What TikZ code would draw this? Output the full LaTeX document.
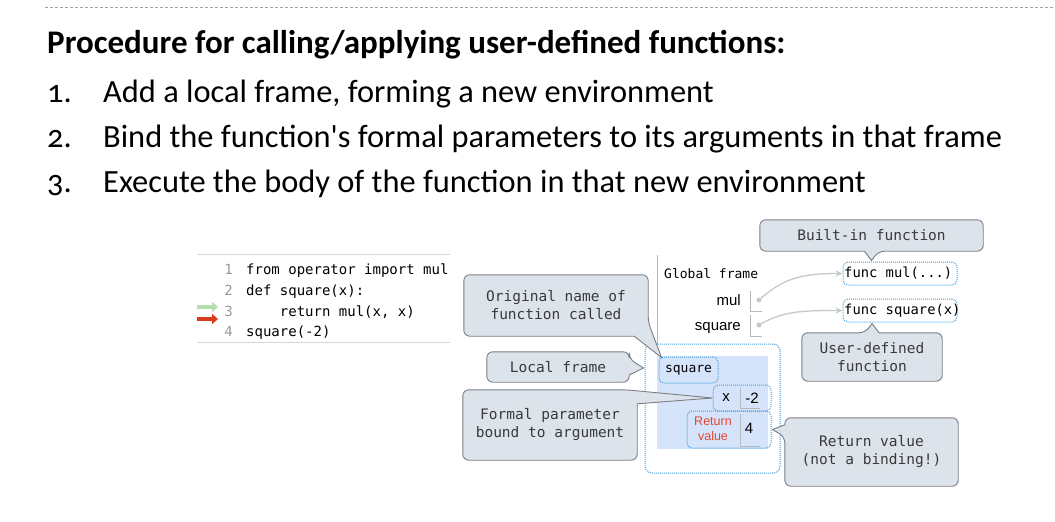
\documentclass[tikz,border=0pt]{standalone}
\usepackage{fontspec}
\setmainfont{Carlito}
\newfontfamily\listnum[Numbers=OldStyle]{Carlito}
\newfontfamily\codefont{DejaVu Sans Mono}
\newfontfamily\labelfont{Liberation Sans}
\usetikzlibrary{calc,arrows.meta}

\definecolor{callfill}{HTML}{DDE3EA}
\definecolor{callline}{HTML}{7B7F84}
\definecolor{calltext}{HTML}{3A3A3A}
\definecolor{frameblue}{HTML}{4A9FD8}
\definecolor{framefill}{HTML}{D6E4FB}
\definecolor{ptrgray}{HTML}{C8C8C8}
\definecolor{rulegray}{HTML}{D8D8D8}
\definecolor{cellgray}{HTML}{B8B8B8}
\definecolor{retred}{HTML}{E5452F}
\definecolor{arrowred}{HTML}{D93A22}
\definecolor{arrowgreen}{HTML}{B6DDB0}
\definecolor{numgray}{HTML}{9A9A9A}
\definecolor{dashgray}{HTML}{A0A0A0}

\begin{document}
\begin{tikzpicture}[x=1pt,y=-1pt,
  heading/.style={anchor=base west,inner sep=0pt,font=\bfseries\fontsize{33}{38}\selectfont},
  itemnum/.style={anchor=base west,inner sep=0pt,font=\listnum\fontsize{32.4}{38}\selectfont},
  itemtext/.style={anchor=base west,inner sep=0pt,font=\fontsize{32.4}{38}\selectfont},
  codeline/.style={anchor=base west,inner sep=0pt,font=\codefont\fontsize{14}{17}\selectfont},
  lineno/.style={anchor=base east,inner sep=0pt,text=numgray,font=\codefont\fontsize{14}{17}\selectfont},
  calloutbox/.style={inner sep=0pt},
  callpath/.style={draw=callline,fill=callfill,line width=0.9pt,rounded corners=6pt,line join=round},
  calllabel/.style={text=calltext,align=center,inner sep=0pt,font=\codefont\fontsize{14.5}{18}\selectfont},
  dotbox/.style={draw=frameblue,densely dotted,line width=1pt,rounded corners=5pt,inner sep=0pt},
  framelabel/.style={inner sep=0pt,font=\codefont\fontsize{13}{15}\selectfont},
  funclabel/.style={inner sep=0pt,font=\codefont\fontsize{13.8}{16}\selectfont},
  varname/.style={inner sep=0pt,font=\labelfont\fontsize{15}{18}\selectfont},
  cellline/.style={draw=cellgray,line width=0.8pt},
  ptr/.style={draw=ptrgray,line width=1.3pt,-{Stealth[length=7pt,width=6pt]}},
  ptrdot/.style={circle,fill=ptrgray,inner sep=0pt,minimum size=5pt},
  marker/.style={line width=3.5pt,-{Triangle[length=6pt,width=10pt]}}]

\useasboundingbox (0,0) rectangle (1055,522);

% rule at the top of the slide
\draw[dashgray,line width=1pt,dash pattern=on 3pt off 2pt] (45,7) -- (1055,7);

% heading and numbered steps
\node[heading] (head) at (47,53) {Procedure for calling/applying user-defined functions:};
\node[itemnum] (n1) at (47,102) {1.};
\node[itemtext] (t1) at (103,102) {Add a local frame, forming a new environment};
\node[itemnum] (n2) at (47,147) {2.};
\node[itemtext] (t2) at (103,147) {Bind the function\textquotesingle s formal parameters to its arguments in that frame};
\node[itemnum] (n3) at (47,192) {3.};
\node[itemtext] (t3) at (103,192) {Execute the body of the function in that new environment};

% code listing
\draw[rulegray,line width=1pt] (197,254) -- (450,254);
\draw[rulegray,line width=1pt] (197,342) -- (450,342);
\node[lineno] (l1) at (233,274) {1};
\node[codeline] (c1) at (246,274) {from operator import mul};
\node[lineno] (l2) at (233,295) {2};
\node[codeline] (c2) at (246,295) {def square(x):};
\node[lineno] (l3) at (233,316) {3};
\node[codeline] (c3) at (279.7,316) {return mul(x, x)};
\node[lineno] (l4) at (233,336) {4};
\node[codeline] (c4) at (246,336) {square(-2)};
\draw[marker,arrowgreen] (197,307) -- (218,307);
\draw[marker,arrowred] (197,319) -- (218,319);

% global frame
\draw[cellgray,line width=0.8pt] (657,255) -- (657,345);
\node[framelabel,anchor=base west] (gtitle) at (664,278) {Global frame};
\node[varname,anchor=base east] (mulname) at (741,305) {mul};
\node[varname,anchor=base east] (sqname) at (741,330) {square};
\draw[cellline] (750,291) -- (750,311) -- (762,311);
\draw[cellline] (750,315) -- (750,336) -- (762,336);
\node[ptrdot] (muldot) at (759,300) {};
\node[ptrdot] (sqdot) at (759,325) {};

% function objects
\node[dotbox,minimum width=114pt,minimum height=23pt] (fmul) at (900,273.5) {};
\node[funclabel,anchor=west] (fmultxt) at ($(fmul.west)+(1.5,0)$) {func mul(...)};
\node[dotbox,minimum width=114pt,minimum height=23pt] (fsq) at (900,310.5) {};
\node[funclabel,anchor=west] (fsqtxt) at ($(fsq.west)+(1.5,0)$) {func square(x)};
\draw[ptr] (muldot) .. controls ($(muldot)+(25,-22)$) and ($(fmul.west)+(-40,0)$) .. (fmul.west);
\draw[ptr] (sqdot) .. controls ($(sqdot)+(25,-14)$) and ($(fsq.west)+(-40,0)$) .. (fsq.west);

% local frame for square
\node[dotbox,rounded corners=7pt,minimum width=135pt,minimum height=129pt] (lframe) at (712.5,408.5) {};
\node[fill=framefill,inner sep=0pt,minimum width=111pt,minimum height=93pt] (lfill) at (712.5,402.5) {};
\node[dotbox,framelabel,minimum width=59pt,minimum height=26pt] (sqlabel) at (688.5,370) {square};
\node[dotbox,minimum width=58pt,minimum height=26pt] (xcell) at (742,398) {};
\node[varname] (xname) at (726,398) {x};
\node[varname] (xval) at (752,398) {-2};
\draw[cellline] (740,388) -- (740,408) -- (760,408);
\node[dotbox,minimum width=84pt,minimum height=37pt] (retcell) at (729,429.5) {};
\node[inner sep=0pt,align=center,text=retred,font=\labelfont\fontsize{12.5}{15}\selectfont] (retname) at (713,429) {Return\\value};
\node[varname] (retval) at (749,428) {4};
\draw[cellline] (740,414) -- (740,446) -- (760,446);

% callout: original name
\node[calloutbox,minimum width=184pt,minimum height=61pt] (origcall) at (556,305.5) {};
\path[callpath] (origcall.north) -- (origcall.north east) -- ($(origcall.south east)+(0,-14)$)
  [sharp corners] -- ($(sqlabel.north west)+(3,1)$) -- ($(origcall.south east)+(-14,0)$)
  [rounded corners=6pt] -- (origcall.south west) -- (origcall.north west) -- cycle;
\node[calllabel] (origtxt) at (origcall) {Original name of\\function called};

% callout: local frame
\node[calloutbox,minimum width=142pt,minimum height=30pt] (localcall) at (558,367) {};
\path[callpath] (localcall.north) -- (localcall.north east) -- ($(localcall.east)+(0,-8)$)
  [sharp corners] -- ($(lframe.west |- localcall.east)+(-1,1)$) -- ($(localcall.east)+(0,8)$)
  [rounded corners=6pt] -- (localcall.south east) -- (localcall.south west) -- (localcall.north west) -- cycle;
\node[calllabel] (localtxt) at (localcall) {Local frame};

% callout: formal parameter
\node[calloutbox,minimum width=174pt,minimum height=70pt] (formalcall) at (550,425) {};
\path[callpath] (formalcall.north) -- ($(formalcall.north east)+(-11,0)$)
  [sharp corners] -- (xcell.west) -- ($(formalcall.north east)+(0,14)$)
  [rounded corners=6pt] -- (formalcall.south east) -- (formalcall.south west) -- (formalcall.north west) -- cycle;
\node[calllabel] (formaltxt) at (formalcall) {Formal parameter\\bound to argument};

% callout: built-in function
\node[calloutbox,minimum width=223pt,minimum height=31pt] (builtcall) at (871.5,235.5) {};
\path[callpath] (builtcall.north) -- (builtcall.north east) -- (builtcall.south east) -- ($(builtcall.south)+(7,0)$)
  [sharp corners] -- ($(builtcall.south |- fmul.north)+(0,-1)$) -- ($(builtcall.south)+(-7,0)$)
  [rounded corners=6pt] -- (builtcall.south west) -- (builtcall.north west) -- cycle;
\node[calllabel] (builttxt) at (builtcall) {Built-in function};

% callout: user-defined function
\node[calloutbox,minimum width=140pt,minimum height=48pt] (usercall) at (872,357) {};
\path[callpath] (usercall.south) -- (usercall.south west) -- (usercall.north west) -- ($(usercall.north)+(-7,0)$)
  [sharp corners] -- ($(usercall.north |- fsq.south)+(0,1)$) -- ($(usercall.north)+(7,0)$)
  [rounded corners=6pt] -- (usercall.north east) -- (usercall.south east) -- cycle;
\node[calllabel] (usertxt) at (usercall) {User-defined\\function};

% callout: return value
\node[calloutbox,minimum width=173pt,minimum height=68pt] (retcall) at (871.5,452) {};
\path[callpath] (retcall.north) -- (retcall.north east) -- (retcall.south east) -- (retcall.south west)
  -- ($(retcall.north west)+(0,19)$)
  [sharp corners] -- ($(retcell.east)+(1,0)$) -- ($(retcall.north west)+(0,7)$)
  [rounded corners=6pt] -- (retcall.north west) -- cycle;
\node[calllabel] (rettxt) at (retcall) {Return value\\(not a binding!)};

\end{tikzpicture}
\end{document}
